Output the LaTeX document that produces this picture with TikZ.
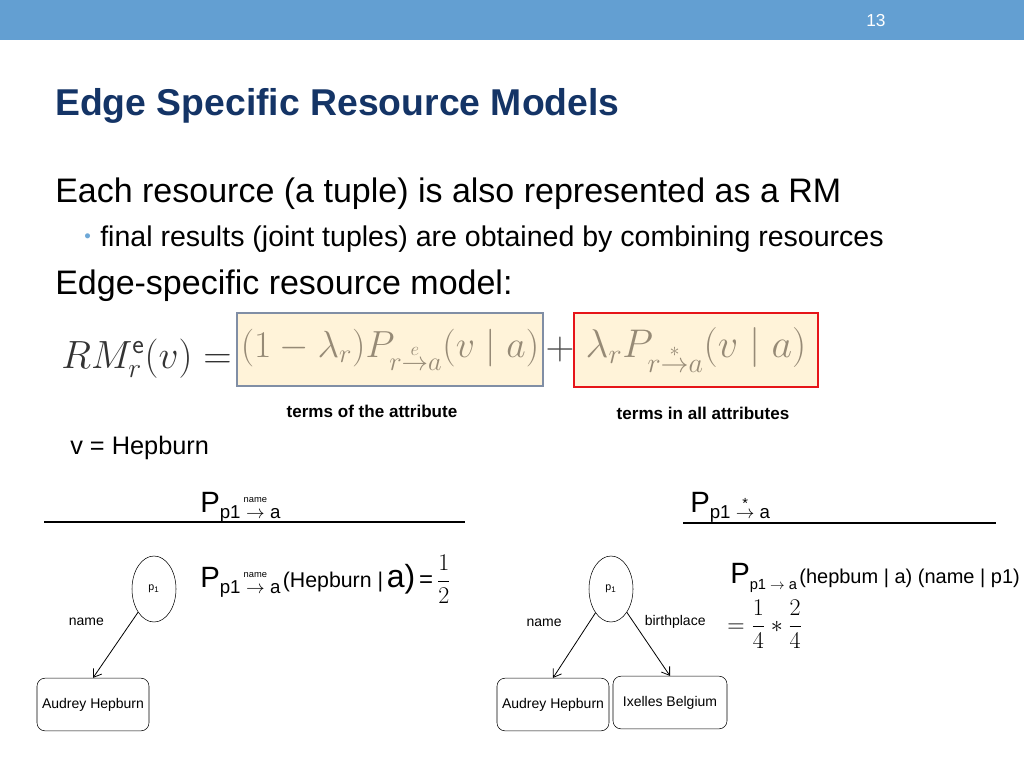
\documentclass[tikz,border=0pt]{standalone}
\usepackage{fix-cm}
\usepackage{amsmath,amssymb}
\usepackage[no-math]{fontspec}
\setmainfont{Liberation Sans}
\usetikzlibrary{shapes.geometric,positioning,arrows.meta}
\definecolor{barblue}{RGB}{99,159,210}
\definecolor{titleblue}{RGB}{20,52,102}
\definecolor{dotblue}{RGB}{110,168,215}
\definecolor{cream}{RGB}{255,243,217}
\definecolor{boxgray}{RGB}{128,142,165}
\definecolor{boxred}{RGB}{230,20,25}
\definecolor{faded}{RGB}{150,138,118}
\newcommand{\fs}[1]{\fontsize{#1}{#1}\selectfont}
\newcommand{\overarrow}[1]{\ensuremath{\overset{\raisebox{4pt}{\fs{7}#1}}{\rightarrow}}}

\begin{document}
\begin{tikzpicture}[x=0.75pt,y=-0.75pt,>={Straight Barb[length=5.5pt,width=7.5pt]},
    ent/.style={draw,ellipse,minimum width=33pt,minimum height=49.5pt,inner sep=0pt,font=\fs{8}},
    val/.style={draw,rounded corners=6pt,minimum height=39.5pt,font=\fs{10.5}},
    elbl/.style={font=\fs{10.5}},
    txt/.style={anchor=base west,inner sep=0pt},
    eqbox/.style={fill=cream,line width=1.5pt,minimum height=55pt,inner sep=0pt,text=faded}]
    \useasboundingbox (0,0) rectangle (1024,768);
    \fill[white] (0,0) rectangle (1024,768);
    %title bar
    \fill[barblue] (0,0) rectangle (1024,40);
    \node[txt,text=white,font=\fs{13}] (pg) at (866,26) {13};
    \node[txt,text=titleblue,font=\bfseries\fs{28}] (title) at (55,115) {Edge Specific Resource Models};
    %text
    \node[txt,font=\fs{25.5}] (each) at (55,202) {Each resource (a tuple) is also represented as a RM};
    \node[txt,text=dotblue,font=\fs{14}] (dot) at (84,242) {•};
    \node[txt,font=\fs{21.4}] (final) at (100,246) {final results (joint tuples) are obtained by combining resources};
    \node[txt,font=\fs{25.5}] (esrm) at (55,294) {Edge-specific resource model:};
    %formula
    \node[anchor=base east,inner sep=0pt,font=\fs{29.5},text=black!80] (rm) at (232,368) {$RM_r^{\mathsf{e}}(v) =$};
    \node[eqbox,draw=boxgray,minimum width=229.5pt,font=\fs{28.3}] (own) at (390,349.5) {$(1-\lambda_r)P_{r\overset{e}{\rightarrow}a}(v\mid a)$};
    \node[font=\fs{30},text=black!70] (plus) at (560,349) {$+$};
    \node[eqbox,draw=boxred,minimum width=183pt,font=\fs{30}] (all) at (696,350) {$\lambda_rP_{r\overset{*}{\rightarrow}a}(v\mid a)$};
    \node[font=\bfseries\fs{12.8}] (tatt) at (372,411) {terms of the attribute};
    \node[font=\bfseries\fs{12.8}] (tall) at (703,413) {terms in all attributes};
    \node[txt,font=\fs{19}] (v) at (70,454) {v = Hepburn};
    %headers
    \node[txt] (pl) at (200,512) {{\fs{22}P}\raisebox{-5pt}{\fs{14}p1\,\overarrow{name}\,a}};
    \draw[line width=1.5pt] (44,522) -- (465,522);
    \node[txt] (pr) at (690,512) {{\fs{22}P}\raisebox{-5pt}{\fs{14}p1 $\overset{\text{\fs{11}*}}{\rightarrow}$ a}};
    \draw[line width=1.5pt] (683,523) -- (996,523);
    %left graph
    \node[ent] (p1l) at (154,589) {p\textsubscript{1}};
    \node[val,minimum width=84pt] (ahl) at (93,704.5) {Audrey Hepburn};
    \path[->,semithick]
     (p1l) edge node[elbl,pos=.15,left=17pt]{name} (ahl.north);
    \node[txt] (fl) at (200,587) {{\fs{22}P}\raisebox{-5pt}{\fs{14}p1\,\overarrow{name}\,a}\,{\fs{16}(Hepburn |} {\fs{24}a)} {\fs{18}=} {\fs{18}$\dfrac{1}{2}$}};
    %right graph
    \node[ent] (p1r) at (611,589) {p\textsubscript{1}};
    \node[val,minimum width=84pt] (ahr) at (553,704.5) {Audrey Hepburn};
    \node[val,minimum width=85.5pt] (ib) at (670,702.5) {Ixelles Belgium};
    \path[->,semithick]
     (p1r) edge node[elbl,pos=.15,left=17pt]{name} (ahr.north)
     (p1r) edge node[elbl,pos=.15,right=5pt]{birthplace} (ib.north);
    \node[txt] (fr) at (730,583) {{\fs{22}P}\raisebox{-5pt}{\fs{11}p1 $\rightarrow$ a}\,{\fs{15}(hepbum | a) (name | p1)}};
    \node[txt,font=\fs{18}] (frac) at (727,632) {$=\dfrac{1}{4}*\dfrac{2}{4}$};
\end{tikzpicture}
\end{document}
